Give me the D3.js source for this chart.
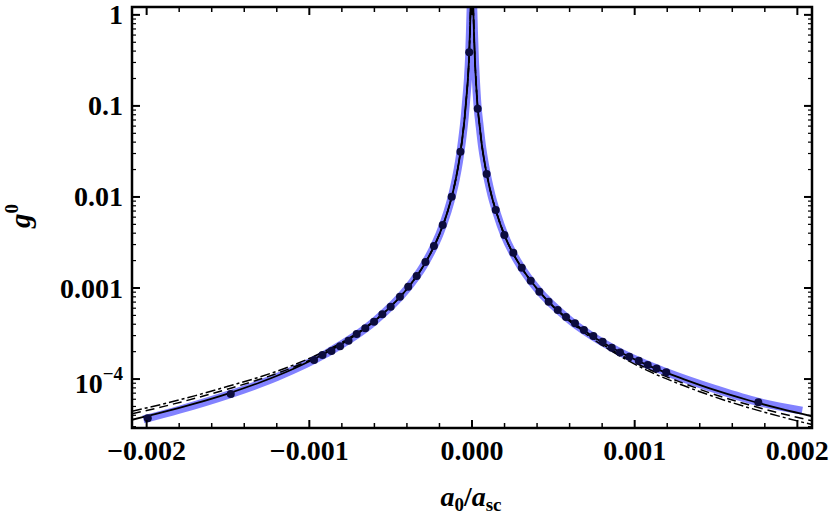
<!DOCTYPE html>
<html>
<head>
<meta charset="utf-8">
<script src="https://cdn.jsdelivr.net/npm/d3@7"></script>
<style>
body { margin: 0; background: #fff; }
text { font-family: "Liberation Serif", "DejaVu Serif", serif; font-weight: bold; fill: #000; }
</style>
</head>
<body>
<script>
// curve samples (x in a0/asc, values of g0)
var xGrid = [-2.09e-3, -1.9e-3, -1.7e-3, -1.5e-3, -1.3e-3, -1.1e-3, -0.9e-3, -0.75e-3, -0.6e-3, -0.5e-3,
  -0.4e-3, -0.3e-3, -0.25e-3, -0.2e-3, -0.15e-3, -0.12e-3, -0.1e-3, -0.08e-3, -0.06e-3, -0.045e-3,
  -0.035e-3, -0.025e-3, -0.018e-3, -0.012e-3, -0.008e-3, -0.004e-3, 0,
  0.004e-3, 0.008e-3, 0.012e-3, 0.018e-3, 0.025e-3, 0.035e-3, 0.045e-3, 0.06e-3, 0.08e-3,
  0.1e-3, 0.12e-3, 0.15e-3, 0.2e-3, 0.25e-3, 0.3e-3, 0.4e-3, 0.5e-3, 0.6e-3, 0.75e-3,
  0.9e-3, 1.1e-3, 1.3e-3, 1.5e-3, 1.7e-3, 1.9e-3, 2.09e-3];

var solidVals = [3.57e-5, 4.32e-5, 5.4e-5, 6.93e-5, 9.23e-5, 1.29e-4, 1.93e-4, 2.77e-4, 4.33e-4, 6.24e-4,
  9.75e-4, 1.73e-3, 2.5e-3, 3.9e-3, 6.93e-3, 0.0108, 0.0156, 0.0244, 0.0433, 0.075,
  0.12, 0.2, 0.34, 0.72, 1.25, 2.2, 3.0,
  2.0, 1.15, 0.65, 0.32, 0.18, 0.095, 0.065, 0.038, 0.0225,
  0.0148, 0.0104, 0.0068, 3.78e-3, 2.44e-3, 1.72e-3, 9.8e-4, 6.3e-4, 4.45e-4, 2.88e-4,
  2.02e-4, 1.37e-4, 1.0e-4, 7.5e-5, 5.85e-5, 4.7e-5, 3.9e-5];

var dashVals = [4.16e-5, 4.98e-5, 6.16e-5, 7.78e-5, 1.0e-4, 1.343e-4, 1.965e-4, 2.79e-4, 4.33e-4, 6.24e-4,
  9.75e-4, 1.73e-3, 2.5e-3, 3.9e-3, 6.93e-3, 0.0108, 0.0156, 0.0244, 0.0433, 0.075,
  0.12, 0.2, 0.34, 0.72, 1.25, 2.2, 3.0,
  2.0, 1.15, 0.65, 0.32, 0.18, 0.095, 0.065, 0.038, 0.0225,
  0.0148, 0.0104, 0.0068, 3.78e-3, 2.44e-3, 1.72e-3, 9.8e-4, 6.25e-4, 4.36e-4, 2.77e-4,
  1.90e-4, 1.25e-4, 9.0e-5, 6.69e-5, 5.22e-5, 4.19e-5, 3.48e-5];

var dotDashVals = [4.44e-5, 5.31e-5, 6.58e-5, 8.32e-5, 1.06e-4, 1.42e-4, 2.04e-4, 2.86e-4, 4.385e-4, 6.27e-4,
  9.75e-4, 1.73e-3, 2.5e-3, 3.9e-3, 6.93e-3, 0.0108, 0.0156, 0.0244, 0.0433, 0.075,
  0.12, 0.2, 0.34, 0.72, 1.25, 2.2, 3.0,
  2.0, 1.15, 0.65, 0.32, 0.18, 0.095, 0.065, 0.038, 0.0225,
  0.0148, 0.0104, 0.0068, 3.78e-3, 2.44e-3, 1.72e-3, 9.8e-4, 6.2e-4, 4.31e-4, 2.70e-4,
  1.83e-4, 1.19e-4, 8.48e-5, 6.29e-5, 4.85e-5, 3.86e-5, 3.16e-5];

// thick blue band
var bandX = [-2.02e-3, -1.8e-3, -1.5e-3, -1.2e-3, -0.9e-3, -0.6e-3, -0.4e-3,
  -0.3e-3, -0.25e-3, -0.2e-3, -0.15e-3, -0.12e-3, -0.1e-3, -0.08e-3, -0.06e-3, -0.045e-3,
  -0.035e-3, -0.025e-3, -0.018e-3, -0.012e-3, -0.008e-3, -0.004e-3, 0,
  0.004e-3, 0.008e-3, 0.012e-3, 0.018e-3, 0.025e-3, 0.035e-3, 0.045e-3, 0.06e-3, 0.08e-3,
  0.1e-3, 0.12e-3, 0.15e-3, 0.2e-3, 0.25e-3, 0.3e-3, 0.4e-3,
  0.6e-3, 0.9e-3, 1.2e-3, 1.5e-3, 1.76e-3, 2.03e-3];
var bandVals = [3.6e-5, 4.6e-5, 6.7e-5, 1.05e-4, 1.89e-4, 4.3e-4, 9.75e-4,
  1.73e-3, 2.5e-3, 3.9e-3, 6.93e-3, 0.0108, 0.0156, 0.0244, 0.0433, 0.075,
  0.12, 0.2, 0.34, 0.72, 1.25, 2.2, 3.0,
  2.0, 1.15, 0.65, 0.32, 0.18, 0.095, 0.065, 0.038, 0.0225,
  0.0148, 0.0104, 0.0068, 3.78e-3, 2.44e-3, 1.72e-3, 9.8e-4,
  4.45e-4, 2.02e-4, 1.18e-4, 7.7e-5, 5.6e-5, 4.5e-5];

// dots
var dotX = [-1.993e-3, -1.483e-3, -0.971e-3, -0.919e-3, -0.864e-3, -0.811e-3, -0.759e-3, -0.709e-3,
  -0.656e-3, -0.602e-3, -0.551e-3, -0.500e-3, -0.443e-3, -0.392e-3, -0.340e-3, -0.286e-3,
  -0.234e-3, -0.180e-3, -0.125e-3, -0.071e-3, -0.017e-3,
  0.035e-3, 0.090e-3, 0.146e-3, 0.199e-3, 0.254e-3, 0.306e-3, 0.361e-3, 0.414e-3, 0.471e-3,
  0.527e-3, 0.578e-3, 0.633e-3, 0.688e-3, 0.746e-3, 0.803e-3, 0.859e-3, 0.910e-3, 0.967e-3,
  1.025e-3, 1.080e-3, 1.135e-3, 1.194e-3, 1.760e-3];
var dotVals = [3.70e-5, 6.84e-5, 1.62e-4, 1.84e-4, 2.03e-4, 2.29e-4, 2.64e-4, 3.12e-4,
  3.61e-4, 4.27e-4, 5.14e-4, 6.23e-4, 8.01e-4, 1.032e-3, 1.356e-3, 1.93e-3,
  2.89e-3, 4.92e-3, 1.007e-2, 3.13e-2, 0.389,
  0.0933, 0.0179, 7.19e-3, 3.82e-3, 2.44e-3, 1.67e-3, 1.20e-3, 9.10e-4, 7.06e-4,
  5.73e-4, 4.80e-4, 4.09e-4, 3.45e-4, 2.97e-4, 2.57e-4, 2.21e-4, 1.96e-4, 1.76e-4,
  1.59e-4, 1.43e-4, 1.31e-4, 1.19e-4, 5.55e-5];

var xTicks = [-0.002, -0.001, 0, 0.001, 0.002];
var xTickLabels = ["\u22120.002", "\u22120.001", "0.000", "0.001", "0.002"];
var yTicks = [1e-4, 1e-3, 1e-2, 0.1, 1];
var yTickLabels = ["10", "0.001", "0.01", "0.1", "1"];

var width = 830, height = 518;
var pLeft = 132, pRight = 812, pTop = 7, pBottom = 428;

var svg = d3.select("body").append("svg")
  .attr("width", width)
  .attr("height", height);

var x = d3.scaleLinear().domain([-2.09e-3, 2.09e-3]).range([pLeft, pRight]);
var y = d3.scaleLog().domain([2.9e-5, 1.22]).range([pBottom, pTop]);

svg.append("clipPath").attr("id", "plot")
  .append("rect")
  .attr("x", pLeft).attr("y", pTop)
  .attr("width", pRight - pLeft).attr("height", pBottom - pTop);

var line = d3.line()
  .x(function(d) { return x(d[0]); })
  .y(function(d) { return y(d[1]); })
  .curve(d3.curveMonotoneX);

var g = svg.append("g").attr("clip-path", "url(#plot)");

g.append("path")
  .attr("d", line(d3.zip(bandX, bandVals)))
  .attr("fill", "none")
  .attr("stroke", "#8282ff")
  .attr("stroke-width", 8);

g.append("path")
  .attr("d", line(d3.zip(xGrid, dotDashVals)))
  .attr("fill", "none")
  .attr("stroke", "#000")
  .attr("stroke-width", 1.5)
  .attr("stroke-dasharray", "10,3,3,3");

g.append("path")
  .attr("d", line(d3.zip(xGrid, dashVals)))
  .attr("fill", "none")
  .attr("stroke", "#000")
  .attr("stroke-width", 1.5)
  .attr("stroke-dasharray", "9,5");

g.append("path")
  .attr("d", line(d3.zip(xGrid, solidVals)))
  .attr("fill", "none")
  .attr("stroke", "#000")
  .attr("stroke-width", 1.8);

g.selectAll("circle")
  .data(d3.zip(dotX, dotVals))
  .enter().append("circle")
  .attr("cx", function(d) { return x(d[0]); })
  .attr("cy", function(d) { return y(d[1]); })
  .attr("r", 4)
  .attr("fill", "#0c0c3e");

// ticks on all four sides
var ticks = svg.append("g").attr("stroke", "#000");
var xMinor = x.ticks(20);
xMinor.forEach(function(v) {
  var major = xTicks.some(function(t) { return Math.abs(t - v) < 1e-9; });
  var len = major ? 8 : 5;
  ticks.append("line").attr("x1", x(v)).attr("x2", x(v))
    .attr("y1", pBottom).attr("y2", pBottom - len).attr("stroke-width", major ? 2 : 1.5);
  ticks.append("line").attr("x1", x(v)).attr("x2", x(v))
    .attr("y1", pTop).attr("y2", pTop + len).attr("stroke-width", major ? 2 : 1.5);
});
y.ticks().forEach(function(v) {
  var major = yTicks.some(function(t) { return Math.abs(Math.log10(t) - Math.log10(v)) < 1e-6; });
  var len = major ? 8 : 4;
  ticks.append("line").attr("x1", pLeft).attr("x2", pLeft + len)
    .attr("y1", y(v)).attr("y2", y(v)).attr("stroke-width", major ? 2 : 1.2);
  ticks.append("line").attr("x1", pRight).attr("x2", pRight - len)
    .attr("y1", y(v)).attr("y2", y(v)).attr("stroke-width", major ? 2 : 1.2);
});

svg.append("rect")
  .attr("x", pLeft).attr("y", pTop)
  .attr("width", pRight - pLeft).attr("height", pBottom - pTop)
  .attr("fill", "none")
  .attr("stroke", "#000")
  .attr("stroke-width", 2.5);

// tick labels
svg.selectAll(".xl")
  .data(xTicks)
  .enter().append("text")
  .attr("x", function(d) { return x(d); })
  .attr("y", 460)
  .attr("text-anchor", "middle")
  .style("font-size", "28px")
  .text(function(d, i) { return xTickLabels[i]; });

yTicks.forEach(function(v, i) {
  var t = svg.append("text")
    .attr("x", 123)
    .attr("y", y(v) + (i === 0 ? 14 : 9.5))
    .attr("text-anchor", "end")
    .style("font-size", "28px")
    .text(yTickLabels[i]);
  if (i === 0) {
    t.append("tspan").attr("dy", -13).style("font-size", "19px").text("\u22124");
  }
});

// axis titles
var xt = svg.append("text")
  .attr("x", 471)
  .attr("y", 506)
  .attr("text-anchor", "middle")
  .style("font-size", "28px");
xt.append("tspan").style("font-style", "italic").text("a");
xt.append("tspan").attr("dy", 5).style("font-size", "19px").text("0");
xt.append("tspan").attr("dy", -5).text("/");
xt.append("tspan").style("font-style", "italic").text("a");
xt.append("tspan").attr("dy", 5).style("font-size", "19px").text("sc");

var yt = svg.append("text")
  .attr("transform", "translate(30,216) rotate(-90)")
  .attr("text-anchor", "middle")
  .style("font-size", "29px");
yt.append("tspan").style("font-style", "italic").text("g");
yt.append("tspan").attr("dy", -12).style("font-size", "19px").text("0");
</script>
</body>
</html>
